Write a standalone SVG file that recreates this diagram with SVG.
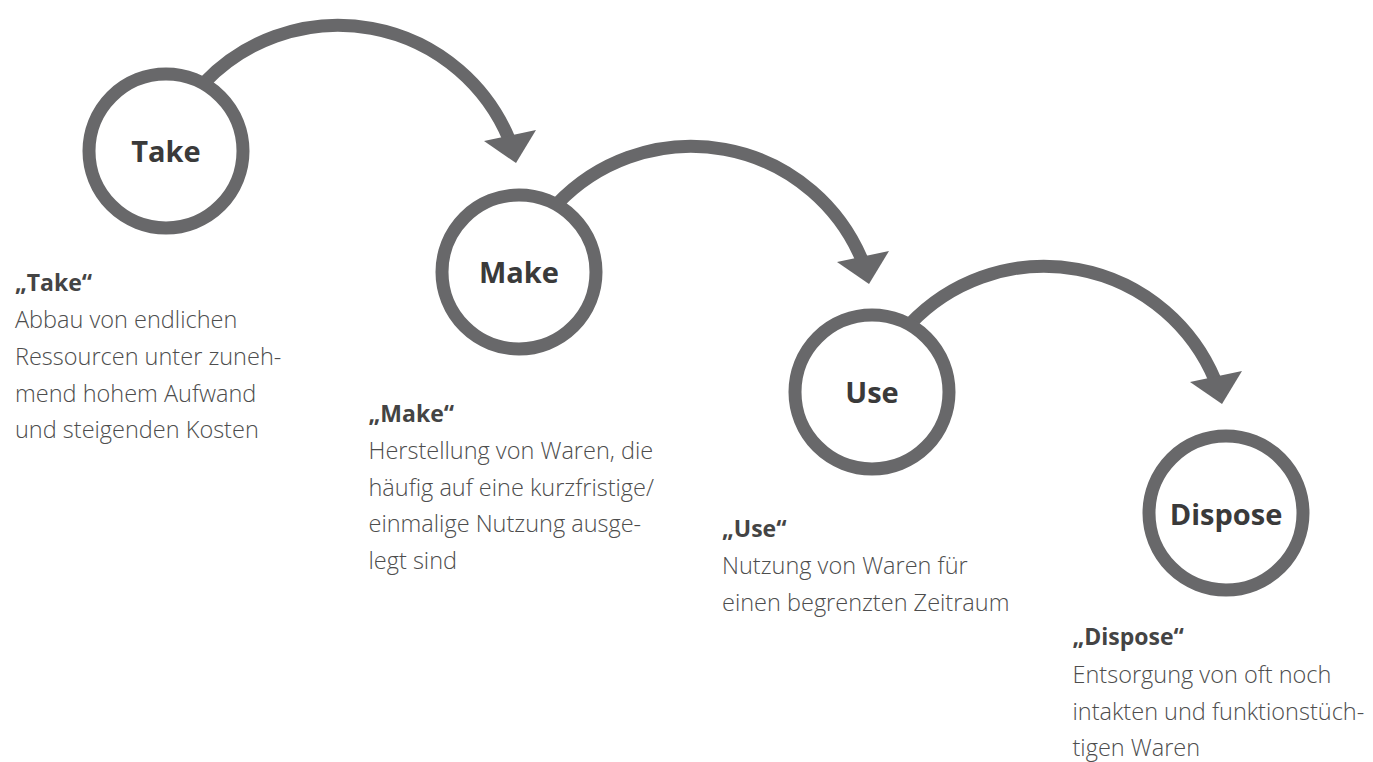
<svg xmlns="http://www.w3.org/2000/svg" width="1373" height="762" viewBox="0 0 1373 762">
<style>
.ring{fill:none;stroke:#68686a;stroke-width:13}
.lbl{font-family:"Open Sans","Liberation Sans",sans-serif;font-weight:700;font-size:29px;fill:#3a3a3a;text-anchor:middle}
.hd{font-family:"Open Sans","Liberation Sans",sans-serif;font-weight:700;font-size:23px;fill:#444}
.bd{font-family:"Open Sans","Liberation Sans",sans-serif;font-weight:300;font-size:23.5px;fill:#4d4d4d}
.shaft{fill:none;stroke:#68686a;stroke-width:13}
.head{fill:#68686a}
</style>
<rect width="1373" height="762" fill="#fff"/>
<g id="connectors">
  <g transform="translate(166,151)">
    <path class="shaft" d="M38,-68 A185,185 0 0 1 343,-12"/>
    <polygon class="head" points="318,-10 370,-21 350,12"/>
  </g>
  <g transform="translate(519,272)">
    <path class="shaft" d="M38,-68 A185,185 0 0 1 343,-12"/>
    <polygon class="head" points="318,-10 370,-21 350,12"/>
  </g>
  <g transform="translate(872,392)">
    <path class="shaft" d="M38,-68 A185,185 0 0 1 343,-12"/>
    <polygon class="head" points="318,-10 370,-21 350,12"/>
  </g>
</g>
<g id="take">
  <circle class="ring" cx="166" cy="151" r="77"/>
  <text class="lbl" x="166" y="162">Take</text>
</g>
<g id="make">
  <circle class="ring" cx="519" cy="272" r="77"/>
  <text class="lbl" x="519" y="283">Make</text>
</g>
<g id="use">
  <circle class="ring" cx="872" cy="392" r="77"/>
  <text class="lbl" x="872" y="403">Use</text>
</g>
<g id="dispose">
  <circle class="ring" cx="1226" cy="513" r="77"/>
  <text class="lbl" x="1226" y="525">Dispose</text>
</g>
<g id="take-text">
  <text class="hd" x="15" y="291">„Take“</text>
  <text class="bd" x="15" y="328">Abbau von endlichen</text>
  <text class="bd" x="15" y="365">Ressourcen unter zuneh-</text>
  <text class="bd" x="15" y="401.5">mend hohem Aufwand</text>
  <text class="bd" x="15" y="438">und steigenden Kosten</text>
</g>
<g id="make-text">
  <text class="hd" x="368.5" y="421.5">„Make“</text>
  <text class="bd" x="368.5" y="458.5">Herstellung von Waren, die</text>
  <text class="bd" x="368.5" y="495.5">häufig auf eine kurzfristige/</text>
  <text class="bd" x="368.5" y="532">einmalige Nutzung ausge-</text>
  <text class="bd" x="368.5" y="569">legt sind</text>
</g>
<g id="use-text">
  <text class="hd" x="722" y="537">„Use“</text>
  <text class="bd" x="722" y="574">Nutzung von Waren für</text>
  <text class="bd" x="722" y="611">einen begrenzten Zeitraum</text>
</g>
<g id="dispose-text">
  <text class="hd" x="1072.5" y="645">„Dispose“</text>
  <text class="bd" x="1072.5" y="682.5">Entsorgung von oft noch</text>
  <text class="bd" x="1072.5" y="719.5">intakten und funktionstüch-</text>
  <text class="bd" x="1072.5" y="756">tigen Waren</text>
</g>
</svg>
